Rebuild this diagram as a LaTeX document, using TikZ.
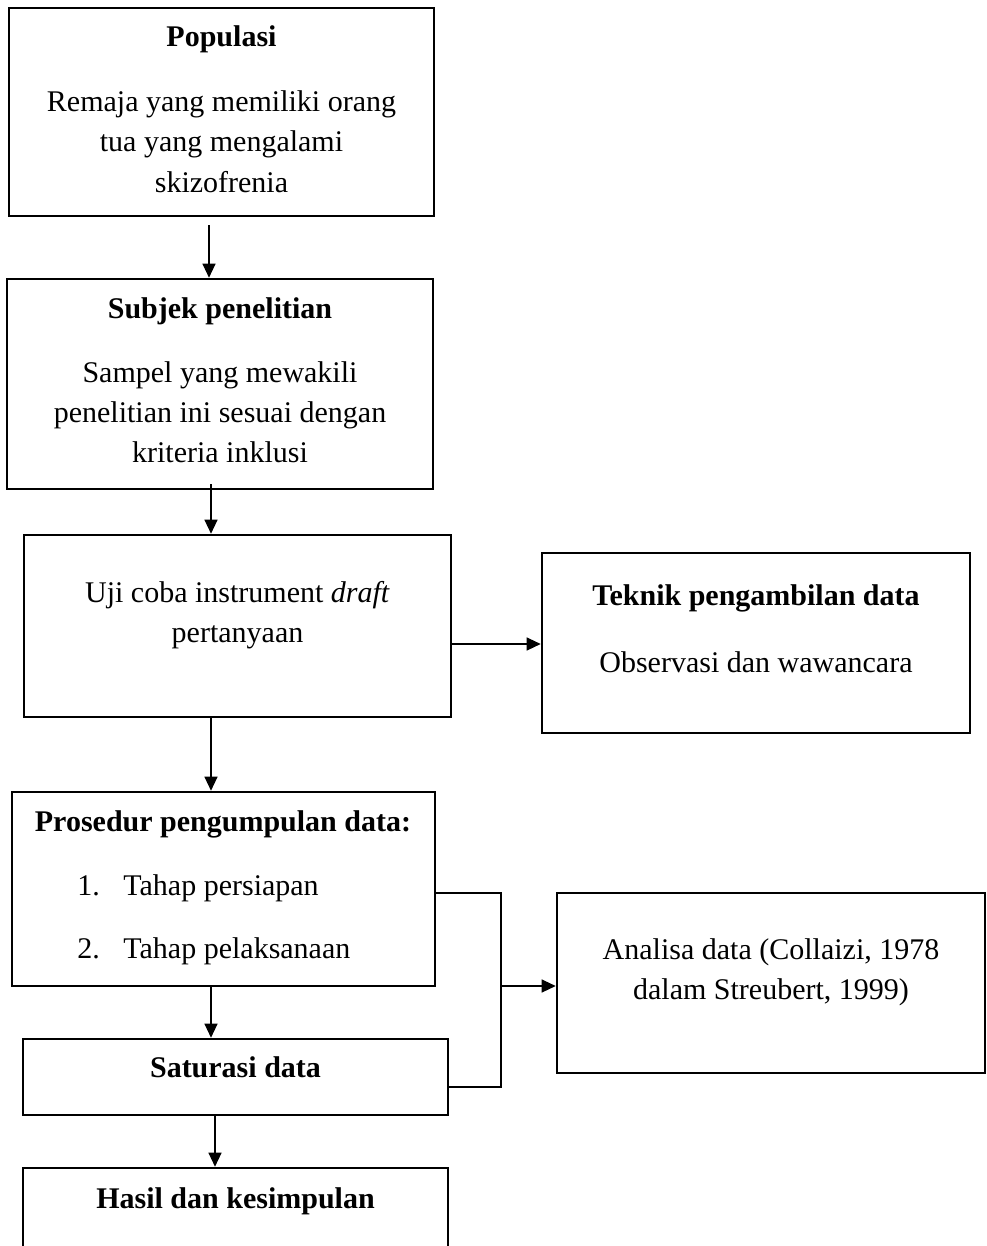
\documentclass[tikz,border=0pt]{standalone}
\usepackage{fontspec}
\setmainfont{Liberation Serif}
\usetikzlibrary{arrows.meta,fit,calc}

\tikzset{
  box/.style={draw, line width=1.3pt, inner sep=0pt},
  txt/.style={inner sep=0pt, anchor=base, font=\fontsize{15pt}{20pt}\selectfont},
  conn/.style={line width=0.6pt},
  arr/.style={line width=0.6pt, -{Triangle[length=7pt,width=6.5pt]}},
}

\begin{document}
\begin{tikzpicture}[x=0.5pt, y=-0.5pt]
  \clip (0,0) rectangle (986,1246);
  \fill[white] (0,0) rectangle (986,1246);

  % boxes
  \node[box, fit={(9,8) (434,216)}] (pop) {};
  \node[box, fit={(7,279) (433,489)}] (sub) {};
  \node[box, fit={(24,535) (451,717)}] (uji) {};
  \node[box, fit={(542,553) (970,733)}] (tek) {};
  \node[box, fit={(12,792) (435,986)}] (proc) {};
  \node[box, fit={(557,893) (985,1073)}] (ana) {};
  \node[box, fit={(23,1039) (448,1115)}] (sat) {};
  \node[box, fit={(23,1168) (448,1270)}] (has) {};

  % texts
  \node[txt] (popT) at (221.5,47) {\textbf{Populasi}};
  \node[txt] (popA) at (221.5,112) {Remaja yang memiliki orang};
  \node[txt] (popB) at (221.5,152) {tua yang mengalami};
  \node[txt] (popC) at (221.5,192) {skizofrenia};

  \node[txt] (subT) at (220,318) {\textbf{Subjek penelitian}};
  \node[txt] (subA) at (220,382) {Sampel yang mewakili};
  \node[txt] (subB) at (220,422) {penelitian ini sesuai dengan};
  \node[txt] (subC) at (220,462) {kriteria inklusi};

  \node[txt] (ujiA) at (237.5,602) {Uji coba instrument \textit{draft}};
  \node[txt] (ujiB) at (237.5,642) {pertanyaan};

  \node[txt] (tekT) at (756,605) {\textbf{Teknik pengambilan data}};
  \node[txt] (tekA) at (756,672) {Observasi dan wawancara};

  \node[txt] (procT) at (223,831) {\textbf{Prosedur pengumpulan data:}};
  \node[txt, anchor=base west] (procN1) at (77,895) {1.};
  \node[txt, anchor=base west] (procA) at (123,895) {Tahap persiapan};
  \node[txt, anchor=base west] (procN2) at (77,958) {2.};
  \node[txt, anchor=base west] (procB) at (123,958) {Tahap pelaksanaan};

  \node[txt] (anaA) at (771,959) {Analisa data (Collaizi, 1978};
  \node[txt] (anaB) at (771,999) {dalam Streubert, 1999)};

  \node[txt] (satT) at (235.5,1077) {\textbf{Saturasi data}};
  \node[txt] (hasT) at (235.5,1208) {\textbf{Hasil dan kesimpulan}};

  % vertical flow
  \draw[arr] ($(pop.south)+(-12.5,8)$) -- ($(sub.north)+(-11,0)$);
  \draw[arr] ($(sub.south)+(-9,-6)$) -- ($(uji.north)+(-26.5,0)$);
  \draw[arr] ($(uji.south)+(-26.5,0)$) -- ($(proc.north)+(-12.5,0)$);
  \draw[arr] ($(proc.south)+(-12.5,0)$) -- ($(sat.north)+(-24.5,0)$);
  \draw[arr] ($(sat.south)+(-20.5,0)$) -- ($(has.north)+(-20.5,0)$);

  % side branches
  \coordinate (t0) at ($(uji.east)+(0,18)$);
  \draw[arr] (t0) -- (t0 -| tek.west);

  \coordinate (bend) at (501,986);
  \draw[conn] ($(proc.east)+(0,4)$) -| (bend) |- ($(sat.east)+(0,10)$);
  \draw[arr] (bend) -- (bend -| ana.west);
\end{tikzpicture}
\end{document}
